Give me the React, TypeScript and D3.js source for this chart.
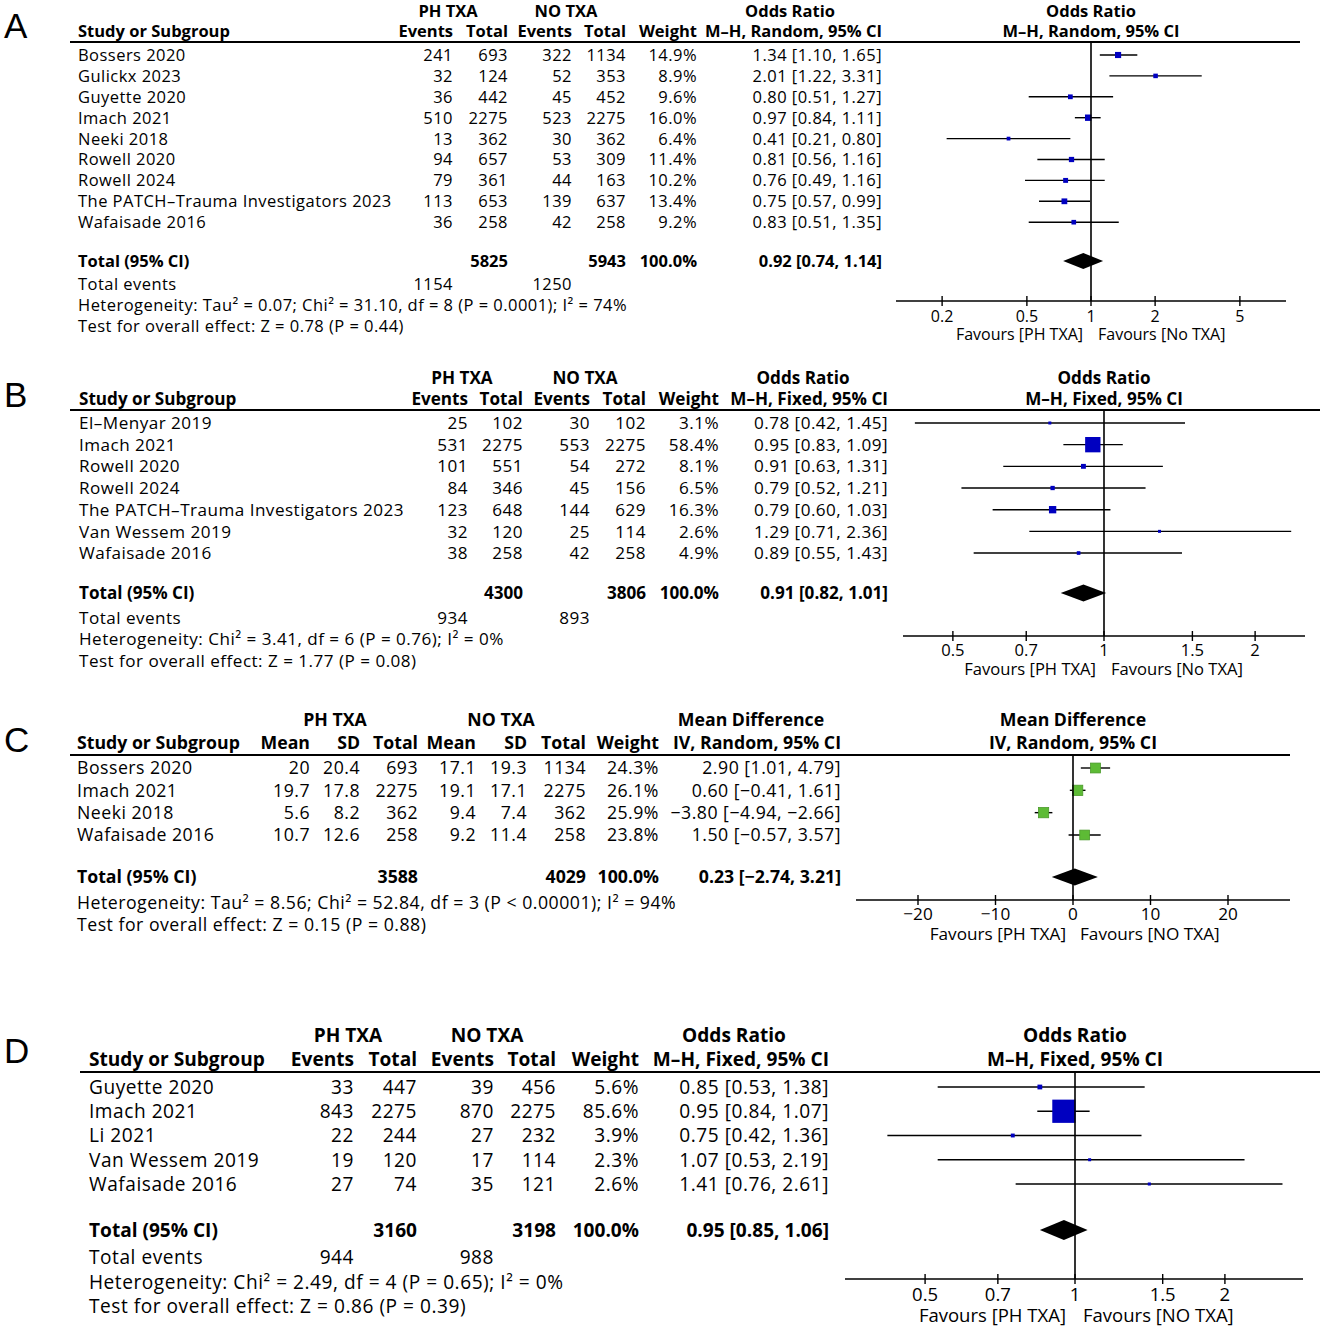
import React from "react";
import * as d3 from "d3";

// ---------------- Panel A data ----------------
const studiesA = ["Bossers 2020", "Gulickx 2023", "Guyette 2020", "Imach 2021", "Neeki 2018", "Rowell 2020", "Rowell 2024", "The PATCH\u2013Trauma Investigators 2023", "Wafaisade 2016"];
const evPhA = [241, 32, 36, 510, 13, 94, 79, 113, 36];
const totPhA = [693, 124, 442, 2275, 362, 657, 361, 653, 258];
const evNoA = [322, 52, 45, 523, 30, 53, 44, 139, 42];
const totNoA = [1134, 353, 452, 2275, 362, 309, 163, 637, 258];
const weightA = [14.9, 8.9, 9.6, 16.0, 6.4, 11.4, 10.2, 13.4, 9.2];
const estA = [1.34, 2.01, 0.8, 0.97, 0.41, 0.81, 0.76, 0.75, 0.83];
const loA = [1.1, 1.22, 0.51, 0.84, 0.21, 0.56, 0.49, 0.57, 0.51];
const hiA = [1.65, 3.31, 1.27, 1.11, 0.8, 1.16, 1.16, 0.99, 1.35];
const totalA = { ph: 5825, no: 5943, evPh: 1154, evNo: 1250, est: 0.92, lo: 0.74, hi: 1.14 };
const hetA = "Heterogeneity: Tau\u00b2 = 0.07; Chi\u00b2 = 31.10, df = 8 (P = 0.0001); I\u00b2 = 74%";
const testA = "Test for overall effect: Z = 0.78 (P = 0.44)";
const ticksA = [0.2, 0.5, 1, 2, 5];
const tickLabelsA = ["0.2", "0.5", "1", "2", "5"];

// ---------------- Panel B data ----------------
const studiesB = ["El\u2013Menyar 2019", "Imach 2021", "Rowell 2020", "Rowell 2024", "The PATCH\u2013Trauma Investigators 2023", "Van Wessem 2019", "Wafaisade 2016"];
const evPhB = [25, 531, 101, 84, 123, 32, 38];
const totPhB = [102, 2275, 551, 346, 648, 120, 258];
const evNoB = [30, 553, 54, 45, 144, 25, 42];
const totNoB = [102, 2275, 272, 156, 629, 114, 258];
const weightB = [3.1, 58.4, 8.1, 6.5, 16.3, 2.6, 4.9];
const estB = [0.78, 0.95, 0.91, 0.79, 0.79, 1.29, 0.89];
const loB = [0.42, 0.83, 0.63, 0.52, 0.6, 0.71, 0.55];
const hiB = [1.45, 1.09, 1.31, 1.21, 1.03, 2.36, 1.43];
const totalB = { ph: 4300, no: 3806, evPh: 934, evNo: 893, est: 0.91, lo: 0.82, hi: 1.01 };
const hetB = "Heterogeneity: Chi\u00b2 = 3.41, df = 6 (P = 0.76); I\u00b2 = 0%";
const testB = "Test for overall effect: Z = 1.77 (P = 0.08)";
const ticksB = [0.5, 0.7, 1, 1.5, 2];
const tickLabelsB = ["0.5", "0.7", "1", "1.5", "2"];

// ---------------- Panel C data ----------------
const studiesC = ["Bossers 2020", "Imach 2021", "Neeki 2018", "Wafaisade 2016"];
const meanPhC = [20, 19.7, 5.6, 10.7];
const sdPhC = [20.4, 17.8, 8.2, 12.6];
const totPhC = [693, 2275, 362, 258];
const meanNoC = [17.1, 19.1, 9.4, 9.2];
const sdNoC = [19.3, 17.1, 7.4, 11.4];
const totNoC = [1134, 2275, 362, 258];
const weightC = [24.3, 26.1, 25.9, 23.8];
const estC = [2.9, 0.6, -3.8, 1.5];
const loC = [1.01, -0.41, -4.94, -0.57];
const hiC = [4.79, 1.61, -2.66, 3.57];
const totalC = { ph: 3588, no: 4029, est: 0.23, lo: -2.74, hi: 3.21 };
const hetC = "Heterogeneity: Tau\u00b2 = 8.56; Chi\u00b2 = 52.84, df = 3 (P < 0.00001); I\u00b2 = 94%";
const testC = "Test for overall effect: Z = 0.15 (P = 0.88)";
const ticksC = [-20, -10, 0, 10, 20];
const tickLabelsC = ["\u221220", "\u221210", "0", "10", "20"];

// ---------------- Panel D data ----------------
const studiesD = ["Guyette 2020", "Imach 2021", "Li 2021", "Van Wessem 2019", "Wafaisade 2016"];
const evPhD = [33, 843, 22, 19, 27];
const totPhD = [447, 2275, 244, 120, 74];
const evNoD = [39, 870, 27, 17, 35];
const totNoD = [456, 2275, 232, 114, 121];
const weightD = [5.6, 85.6, 3.9, 2.3, 2.6];
const estD = [0.85, 0.95, 0.75, 1.07, 1.41];
const loD = [0.53, 0.84, 0.42, 0.53, 0.76];
const hiD = [1.38, 1.07, 1.36, 2.19, 2.61];
const totalD = { ph: 3160, no: 3198, evPh: 944, evNo: 988, est: 0.95, lo: 0.85, hi: 1.06 };
const hetD = "Heterogeneity: Chi\u00b2 = 2.49, df = 4 (P = 0.65); I\u00b2 = 0%";
const testD = "Test for overall effect: Z = 0.86 (P = 0.39)";
const ticksD = [0.5, 0.7, 1, 1.5, 2];
const tickLabelsD = ["0.5", "0.7", "1", "1.5", "2"];

// ---------------- helpers ----------------
const FONT = "'Open Sans', 'Noto Sans', sans-serif";
const num = (v: number) => String(v).replace("-", "\u2212");
const f2 = (v: number) => v.toFixed(2).replace("-", "\u2212");
const pct = (w: number) => w.toFixed(1) + "%";
const ci = (e: number, l: number, h: number) => `${f2(e)} [${f2(l)}, ${f2(h)}]`;

type Spec = {
  letter: string; letterY: number;
  fs: number; studyX: number; lineX0: number; lineX1: number;
  yHead1: number; yHead2: number; yLine: number; yRow0: number; rowStep: number;
  yTotal: number; yEvents: number | null; yHet: number; yTest: number;
  yAxis: number; yTick: number; yFav: number;
  groups: { label: string; cx: number }[];
  colX: number[]; colHeads: string[];
  esTitle: string; esTitleCx: number; esMethod: string;
  rows: (string | number)[][];
  totalCells: (string | number | null)[];
  eventCells: (string | number | null)[] | null;
  het: string; test: string;
  plot: {
    kind: "log" | "linear"; nullX: number; unitPx: number; axisX0: number; axisX1: number;
    ticks: number[]; tickLabels: string[]; favL: string; favR: string; favGapL: number; favGapR: number;
    color: string; stroke: string; sqK: number; diamondH: number;
    est: number[]; lo: number[]; hi: number[]; w: number[];
    tEst: number; tLo: number; tHi: number;
  };
};

function ForestPanel({ s }: { s: Spec }) {
  const p = s.plot;
  const x = p.kind === "log"
    ? d3.scaleLog().domain([1, 10]).range([p.nullX, p.nullX + p.unitPx])
    : d3.scaleLinear().domain([0, 10]).range([p.nullX, p.nullX + p.unitPx]);
  const size = d3.scalePow().exponent(0.58).domain([0, 1]).range([0, p.sqK]);
  const rowY = (i: number) => s.yRow0 + i * s.rowStep;
  const dy = "0.36em";
  const nCols = s.colX.length;
  const ls = 0.028 * s.fs;
  const axisFs = s.fs * 0.97;
  return (
    <g fontFamily={FONT} fontSize={s.fs} fill="#000">
      <text x={4} y={s.letterY} fontFamily="'Liberation Sans', Arial, sans-serif" fontSize={35}>{s.letter}</text>
      {s.groups.map((g, i) => (
        <text key={"g" + i} x={g.cx} y={s.yHead1} dy={dy} textAnchor="middle" fontWeight="bold">{g.label}</text>
      ))}
      <text x={s.esTitleCx} y={s.yHead1} dy={dy} textAnchor="middle" fontWeight="bold">{s.esTitle}</text>
      <text x={s.studyX} y={s.yHead2} dy={dy} fontWeight="bold">Study or Subgroup</text>
      {s.colHeads.map((h, i) => (
        <text key={"h" + i} x={s.colX[i]} y={s.yHead2} dy={dy} textAnchor="end" fontWeight="bold">{h}</text>
      ))}
      <text x={s.colX[nCols - 1]} y={s.yHead2} dy={dy} textAnchor="end" fontWeight="bold">{s.esMethod}</text>
      <text x={p.nullX} y={s.yHead1} dy={dy} textAnchor="middle" fontWeight="bold">{s.esTitle}</text>
      <text x={p.nullX} y={s.yHead2} dy={dy} textAnchor="middle" fontWeight="bold">{s.esMethod}</text>
      <line x1={s.lineX0} x2={s.lineX1} y1={s.yLine} y2={s.yLine} stroke="#000" strokeWidth={2} />
      <g letterSpacing={ls}>
        {s.rows.map((r, i) => (
          <g key={"r" + i}>
            <text x={s.studyX} y={rowY(i)} dy={dy}>{r[0]}</text>
            {r.slice(1).map((c, j) => (
              <text key={j} x={s.colX[j]} y={rowY(i)} dy={dy} textAnchor="end">{c}</text>
            ))}
          </g>
        ))}
        {s.eventCells && s.yEvents !== null && (
          <g>
            <text x={s.studyX} y={s.yEvents} dy={dy}>Total events</text>
            {s.eventCells.map((c, j) => c === null ? null : (
              <text key={"e" + j} x={s.colX[j]} y={s.yEvents!} dy={dy} textAnchor="end">{c}</text>
            ))}
          </g>
        )}
        <text x={s.studyX} y={s.yHet} dy={dy}>{s.het}</text>
        <text x={s.studyX} y={s.yTest} dy={dy}>{s.test}</text>
      </g>
      <g fontSize={axisFs}>
        {p.ticks.map((t, i) => (
          <text key={"kl" + i} x={x(t)} y={s.yTick} dy={dy} textAnchor="middle">{p.tickLabels[i]}</text>
        ))}
        <text x={p.nullX - p.favGapL} y={s.yFav} dy={dy} textAnchor="end">{p.favL}</text>
        <text x={p.nullX + p.favGapR} y={s.yFav} dy={dy} textAnchor="start">{p.favR}</text>
      </g>
      <text x={s.studyX} y={s.yTotal} dy={dy} fontWeight="bold">Total (95% CI)</text>
      {s.totalCells.map((c, j) => c === null ? null : (
        <text key={"t" + j} x={s.colX[j]} y={s.yTotal} dy={dy} textAnchor="end" fontWeight="bold">{c}</text>
      ))}

      {/* plot */}
      {p.est.map((e, i) => {
        const side = Math.max(3, size(p.w[i] / 100) * 10);
        return (
          <g key={"p" + i}>
            <line x1={x(p.lo[i])} x2={x(p.hi[i])} y1={rowY(i)} y2={rowY(i)} stroke="#000" strokeWidth={1.4} />
            <rect x={x(e) - side / 2} y={rowY(i) - side / 2} width={side} height={side} fill={p.color} stroke={p.stroke} strokeWidth={p.stroke === "none" ? 0 : 0.8} />
          </g>
        );
      })}
      <line x1={p.nullX} x2={p.nullX} y1={s.yLine} y2={s.yAxis} stroke="#000" strokeWidth={1.6} />
      <path
        d={`M${x(p.tLo)},${s.yTotal} L${x(p.tEst)},${s.yTotal - p.diamondH / 2} L${x(p.tHi)},${s.yTotal} L${x(p.tEst)},${s.yTotal + p.diamondH / 2} Z`}
        fill="#000"
      />
      <line x1={p.axisX0} x2={p.axisX1} y1={s.yAxis} y2={s.yAxis} stroke="#000" strokeWidth={1.6} />
      {p.ticks.map((t, i) => (
        <line key={"k" + i} x1={x(t)} x2={x(t)} y1={s.yAxis - 5} y2={s.yAxis + 5} stroke="#000" strokeWidth={1.4} />
      ))}
    </g>
  );
}

const specA: Spec = {
  letter: "A", letterY: 38, fs: 16.5, studyX: 78, lineX0: 70, lineX1: 1300,
  yHead1: 11, yHead2: 31, yLine: 42, yRow0: 55, rowStep: 20.9,
  yTotal: 261, yEvents: 284, yHet: 305, yTest: 326, yAxis: 301, yTick: 316, yFav: 334,
  groups: [{ label: "PH TXA", cx: 448 }, { label: "NO TXA", cx: 566 }],
  colX: [453, 508, 572, 626, 697, 882], colHeads: ["Events", "Total", "Events", "Total", "Weight"],
  esTitle: "Odds Ratio", esTitleCx: 790, esMethod: "M\u2013H, Random, 95% CI",
  rows: studiesA.map((st, i) => [st, evPhA[i], totPhA[i], evNoA[i], totNoA[i], pct(weightA[i]), ci(estA[i], loA[i], hiA[i])]),
  totalCells: [null, totalA.ph, null, totalA.no, "100.0%", ci(totalA.est, totalA.lo, totalA.hi)],
  eventCells: [totalA.evPh, null, totalA.evNo, null, null, null],
  het: hetA, test: testA,
  plot: {
    kind: "log", nullX: 1091, unitPx: 213, axisX0: 896, axisX1: 1286,
    ticks: ticksA, tickLabels: tickLabelsA, favL: "Favours [PH TXA]", favR: "Favours [No TXA]", favGapL: 8, favGapR: 7,
    color: "#0000c0", stroke: "none", sqK: 1.28 * Math.pow(100, 0.58) / 10, diamondH: 16,
    est: estA, lo: loA, hi: hiA, w: weightA, tEst: totalA.est, tLo: totalA.lo, tHi: totalA.hi,
  },
};

const specB: Spec = {
  letter: "B", letterY: 407, fs: 17.1, studyX: 79, lineX0: 70, lineX1: 1320,
  yHead1: 378, yHead2: 399, yLine: 410, yRow0: 423, rowStep: 21.67,
  yTotal: 593, yEvents: 618, yHet: 639, yTest: 661, yAxis: 636, yTick: 650, yFav: 669,
  groups: [{ label: "PH TXA", cx: 462 }, { label: "NO TXA", cx: 585 }],
  colX: [468, 523, 590, 646, 719, 888], colHeads: ["Events", "Total", "Events", "Total", "Weight"],
  esTitle: "Odds Ratio", esTitleCx: 803, esMethod: "M\u2013H, Fixed, 95% CI",
  rows: studiesB.map((st, i) => [st, evPhB[i], totPhB[i], evNoB[i], totNoB[i], pct(weightB[i]), ci(estB[i], loB[i], hiB[i])]),
  totalCells: [null, totalB.ph, null, totalB.no, "100.0%", ci(totalB.est, totalB.lo, totalB.hi)],
  eventCells: [totalB.evPh, null, totalB.evNo, null, null, null],
  het: hetB, test: testB,
  plot: {
    kind: "log", nullX: 1104, unitPx: 502, axisX0: 903, axisX1: 1305,
    ticks: ticksB, tickLabels: tickLabelsB, favL: "Favours [PH TXA]", favR: "Favours [No TXA]", favGapL: 8, favGapR: 7,
    color: "#0000c0", stroke: "none", sqK: 1.45 * Math.pow(100, 0.58) / 10, diamondH: 17,
    est: estB, lo: loB, hi: hiB, w: weightB, tEst: totalB.est, tLo: totalB.lo, tHi: totalB.hi,
  },
};

const specC: Spec = {
  letter: "C", letterY: 752, fs: 17.7, studyX: 77, lineX0: 70, lineX1: 1290,
  yHead1: 720, yHead2: 743, yLine: 755, yRow0: 768, rowStep: 22.33,
  yTotal: 877, yEvents: null, yHet: 903, yTest: 925, yAxis: 900, yTick: 914, yFav: 934,
  groups: [{ label: "PH TXA", cx: 335 }, { label: "NO TXA", cx: 501 }],
  colX: [310, 360, 418, 476, 527, 586, 659, 841], colHeads: ["Mean", "SD", "Total", "Mean", "SD", "Total", "Weight"],
  esTitle: "Mean Difference", esTitleCx: 751, esMethod: "IV, Random, 95% CI",
  rows: studiesC.map((st, i) => [st, num(meanPhC[i]), num(sdPhC[i]), totPhC[i], num(meanNoC[i]), num(sdNoC[i]), totNoC[i], pct(weightC[i]), ci(estC[i], loC[i], hiC[i])]),
  totalCells: [null, null, totalC.ph, null, null, totalC.no, "100.0%", ci(totalC.est, totalC.lo, totalC.hi)],
  eventCells: null,
  het: hetC, test: testC,
  plot: {
    kind: "linear", nullX: 1073, unitPx: 77.5, axisX0: 856, axisX1: 1290,
    ticks: ticksC, tickLabels: tickLabelsC, favL: "Favours [PH TXA]", favR: "Favours [NO TXA]", favGapL: 7, favGapR: 7,
    color: "#5dbb35", stroke: "#4a9a2a", sqK: 1.55 * Math.pow(100, 0.58) / 10, diamondH: 17,
    est: estC, lo: loC, hi: hiC, w: weightC, tEst: totalC.est, tLo: totalC.lo, tHi: totalC.hi,
  },
};

const specD: Spec = {
  letter: "D", letterY: 1063, fs: 19.1, studyX: 89, lineX0: 80, lineX1: 1320,
  yHead1: 1035, yHead2: 1059, yLine: 1072, yRow0: 1087, rowStep: 24.25,
  yTotal: 1230, yEvents: 1257, yHet: 1282, yTest: 1306, yAxis: 1279, yTick: 1294, yFav: 1315,
  groups: [{ label: "PH TXA", cx: 348 }, { label: "NO TXA", cx: 487 }],
  colX: [354, 417, 494, 556, 639, 829], colHeads: ["Events", "Total", "Events", "Total", "Weight"],
  esTitle: "Odds Ratio", esTitleCx: 734, esMethod: "M\u2013H, Fixed, 95% CI",
  rows: studiesD.map((st, i) => [st, evPhD[i], totPhD[i], evNoD[i], totNoD[i], pct(weightD[i]), ci(estD[i], loD[i], hiD[i])]),
  totalCells: [null, totalD.ph, null, totalD.no, "100.0%", ci(totalD.est, totalD.lo, totalD.hi)],
  eventCells: [totalD.evPh, null, totalD.evNo, null, null, null],
  het: hetD, test: testD,
  plot: {
    kind: "log", nullX: 1075, unitPx: 498, axisX0: 845, axisX1: 1303,
    ticks: ticksD, tickLabels: tickLabelsD, favL: "Favours [PH TXA]", favR: "Favours [NO TXA]", favGapL: 9, favGapR: 8,
    color: "#0000c0", stroke: "none", sqK: 1.76 * Math.pow(100, 0.58) / 10, diamondH: 20,
    est: estD, lo: loD, hi: hiD, w: weightD, tEst: totalD.est, tLo: totalD.lo, tHi: totalD.hi,
  },
};

export default function App() {
  return (
    <svg width={1325} height={1329} viewBox="0 0 1325 1329" style={{ position: "absolute", left: 0, top: 0, background: "#fff" }}>
      <rect width={1325} height={1329} fill="#fff" />
      {[specA, specB, specC, specD].map((s) => <ForestPanel key={s.letter} s={s} />)}
    </svg>
  );
}
